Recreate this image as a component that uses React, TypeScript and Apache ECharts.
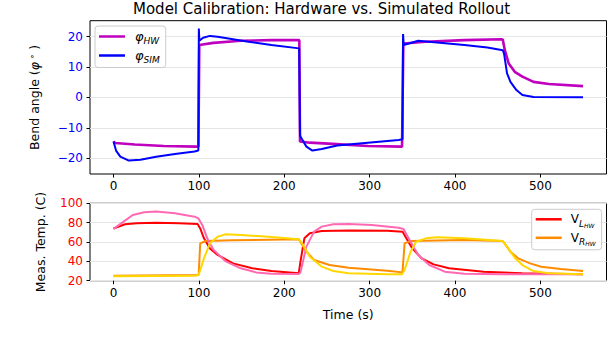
import React, { useEffect, useRef } from 'react';
import * as echarts from 'echarts';

// ---- Tick labels ----
const xTicks = [0, 100, 200, 300, 400, 500];
const phiTicks = [-20, -10, 0, 10, 20];

// ---- Top plot: bend angle (deg) ----
const tPhiHW = [0, 2, 25, 59, 97, 99.5, 100.5, 117, 149, 185, 217.7, 218.5, 230, 257, 298, 338, 339.5, 366, 411, 454, 456, 458.4, 463, 470, 479, 492, 510, 550];
const phiHW = [-14.5, -15, -15.5, -16, -16.2, -16.2, 17.2, 17.9, 18.6, 18.8, 18.8, -14.5, -14.9, -15.3, -16, -16.2, 17.7, 18.3, 18.8, 19.1, 19, 15.5, 11.1, 8.4, 6.8, 5.1, 4.4, 3.7];

const tPhiSIM = [0, 3, 8, 18, 31.6, 50, 72, 95, 99.4, 100, 100.6, 105, 113, 122, 158, 185, 217.5, 218.5, 219.3, 226, 233, 244, 262, 298, 334, 338.5, 339.2, 340, 345, 357, 366, 411, 438, 456, 457.5, 461, 465, 472, 479, 492, 550];
const phiSIM = [-14.5, -17.5, -19.5, -20.8, -20.5, -19.5, -18.6, -17.8, -17.5, 22.6, 18.6, 19.6, 20.2, 19.9, 18.3, 17.2, 16.1, -12.5, -13, -16.2, -17.5, -17, -15.8, -14.9, -14, -13.8, 20.8, 17.2, 17.6, 18.6, 18.4, 17.2, 16.4, 15.5, 14.4, 7.9, 5.1, 2.4, 0.8, 0.1, 0];

// ---- Bottom plot: measured temperature (C) ----
const tVLHW = [0, 13.5, 27, 50, 77, 98.5, 101.6, 106, 113, 122, 140, 162.6, 185, 217, 219, 223.6, 230, 244, 275.5, 320.7, 338.7, 343, 350, 361, 375, 393, 433.6, 478.8, 550];
const vLHW = [74, 78.3, 79.5, 79.8, 79.5, 78.6, 74, 63.8, 53.4, 46.6, 37.9, 32.8, 30, 27.6, 39.7, 63.8, 69, 71.4, 72, 71.7, 70.7, 63.8, 53.4, 43.1, 36.9, 32.8, 29.3, 27.6, 26.6];

const tVRHW = [0, 97, 99.8, 101.6, 108, 140, 217, 226, 235, 253, 275.5, 320.7, 338.5, 341, 348, 411, 456, 465, 474, 488, 501, 524, 550];
const vRHW = [25.2, 25.9, 26, 58.6, 61, 61.7, 62.8, 50, 41.4, 36.2, 33.4, 30.3, 28.6, 58.6, 61, 62, 61, 50, 43.1, 37.9, 34.5, 32, 30];

const tVLSIM = [0, 9, 22.6, 36, 50, 72, 95, 99.4, 104, 110.7, 117.4, 131, 149, 167, 185, 217, 219, 226, 235, 244, 257.5, 275.5, 302.6, 334, 339.7, 348, 357, 370, 388, 411, 456, 550];
const vLSIM = [73.4, 79.3, 87.9, 90.7, 91.4, 89.7, 86.2, 84.5, 77.6, 62, 51.7, 40.3, 32.8, 28.6, 27.2, 26.9, 28.5, 55.2, 70.7, 75.9, 78.3, 78.6, 77.6, 74.8, 73.4, 60.3, 46.6, 36.2, 29.3, 27.2, 26.6, 26.6];

const tVRSIM = [0, 97, 100, 106, 113, 122, 131, 149, 185, 217, 221, 230, 244, 257.5, 275.5, 320.7, 338, 341, 348, 354.6, 366, 379, 411, 456, 461, 470, 479, 492, 510, 550];
const vRSIM = [24.5, 25.2, 26.6, 43.1, 58.6, 65.5, 67.9, 67.2, 65.2, 62.8, 58.6, 44.8, 34.5, 30, 27.6, 26.6, 26.6, 31, 50, 60.3, 63.8, 64.8, 63.8, 61, 55.2, 43.8, 36.2, 30, 27.6, 26.6];

const zip = (t: number[], v: number[]) => t.map((x, i) => [x, v[i]]);
const fmt = (v: number) => (v < 0 ? '\u2212' + Math.abs(v) : String(v));
const FONT = 'DejaVu Sans';

export default function App() {
  const ref = useRef<HTMLDivElement>(null);
  useEffect(() => {
    document.body.style.margin = '0';
    const chart = echarts.init(ref.current as HTMLDivElement, null, { renderer: 'svg' });

    const xAxis = (gridIndex: number, name: string) => ({
      type: 'value',
      gridIndex,
      position: 'bottom',
      min: -27.5,
      max: 577.5,
      name,
      nameLocation: 'middle',
      nameGap: 27,
      nameTextStyle: { color: '#000', fontSize: 12.5, fontFamily: FONT },
      axisLine: { show: false, onZero: false },
      axisTick: { show: true, length: 3.5, lineStyle: { color: '#000', width: 1 }, customValues: xTicks },
      axisLabel: { customValues: xTicks, color: '#000', fontSize: 12, fontFamily: FONT, margin: 6, formatter: fmt },
      splitLine: { show: false },
    });

    const line = (name: string, data: number[][], color: string, width: number, xi: number, z: number) => ({
      type: 'line',
      name,
      xAxisIndex: xi,
      yAxisIndex: xi,
      data,
      symbol: 'none',
      showSymbol: false,
      lineStyle: { color, width },
      itemStyle: { color },
      z,
      silent: true,
    });

    const legendBase = {
      orient: 'vertical',
      icon: 'rect',
      itemWidth: 26,
      itemHeight: 2.5,
      itemGap: 3.5,
      backgroundColor: 'rgba(255,255,255,0.8)',
      borderColor: '#cccccc',
      borderWidth: 1,
      borderRadius: 3,
      padding: [4, 6, 3, 4],
    };

    chart.setOption({
      animation: false,
      backgroundColor: '#ffffff',
      title: {
        text: 'Model Calibration: Hardware vs. Simulated Rollout',
        left: 128,
        top: -4,
        textStyle: { color: '#000', fontSize: 15, fontWeight: 'normal', fontFamily: FONT },
      },
      grid: [
        { left: 90, top: 20.7, width: 516.5, height: 153.3, show: true, borderColor: '#000', borderWidth: 1, backgroundColor: 'transparent' },
        { left: 90, top: 203.3, width: 516.5, height: 77.4, show: true, borderColor: '#000', borderWidth: 1, backgroundColor: 'transparent' },
      ],
      xAxis: [xAxis(0, ''), xAxis(1, 'Time (s)')],
      yAxis: [
        {
          type: 'value',
          gridIndex: 0,
          position: 'left',
          min: -25.2,
          max: 25.2,
          name: '{n|Bend angle (}{i|φ}{s| ∘}{n| )}',
          nameLocation: 'middle',
          nameGap: 49,
          nameTextStyle: {
            color: '#000',
            fontSize: 12.5,
            fontFamily: FONT,
            rich: {
              n: { fontSize: 12.5, fontFamily: FONT, color: '#000' },
              i: { fontSize: 12.5, fontFamily: FONT, fontStyle: 'italic', color: '#000' },
              s: { fontSize: 9, fontFamily: FONT, color: '#000', verticalAlign: 'top', lineHeight: 14 },
            },
          },
          axisLine: { show: false, onZero: false },
          axisTick: { show: true, length: 3.5, lineStyle: { color: '#000' }, customValues: phiTicks },
          axisLabel: { customValues: phiTicks, color: '#0000ff', fontSize: 12, fontFamily: FONT, margin: 7, formatter: fmt },
          splitLine: { show: true, lineStyle: { color: '#e6e6e6', width: 1 } },
        },
        {
          type: 'value',
          gridIndex: 1,
          position: 'left',
          min: 20,
          max: 100,
          interval: 20,
          name: 'Meas. Temp. (C)',
          nameLocation: 'middle',
          nameGap: 43,
          nameTextStyle: { color: '#000', fontSize: 12.5, fontFamily: FONT },
          axisLine: { show: false, onZero: false },
          axisTick: { show: true, length: 3.5, lineStyle: { color: '#000' } },
          axisLabel: { color: '#ff0000', fontSize: 12, fontFamily: FONT, margin: 7, formatter: fmt },
          splitLine: { show: true, lineStyle: { color: '#e6e6e6', width: 1 } },
        },
      ],
      legend: [
        {
          ...legendBase,
          left: 95,
          top: 26,
          data: ['phiHW', 'phiSIM'],
          formatter: (n: string) => (n === 'phiHW' ? '{i|φ}{s|HW}' : '{i|φ}{s|SIM}'),
          textStyle: {
            color: '#000',
            fontFamily: FONT,
            padding: [0, 0, 0, 5],
            rich: {
              i: { fontSize: 13, fontStyle: 'italic', fontFamily: FONT, color: '#000', lineHeight: 18 },
              s: { fontSize: 9, fontStyle: 'italic', fontFamily: FONT, color: '#000', lineHeight: 8, verticalAlign: 'bottom' },
            },
          },
        },
        {
          ...legendBase,
          left: 531.7,
          top: 209.3,
          data: ['VLHW', 'VRHW'],
          formatter: (n: string) => (n === 'VLHW' ? '{v|V}{s|L}{ss|HW}' : '{v|V}{s|R}{ss|HW}'),
          textStyle: {
            color: '#000',
            fontFamily: FONT,
            padding: [0, 0, 0, 4],
            rich: {
              v: { fontSize: 12, fontFamily: FONT, color: '#000', lineHeight: 18 },
              s: { fontSize: 9, fontStyle: 'italic', fontFamily: FONT, color: '#000', lineHeight: 9, verticalAlign: 'bottom' },
              ss: { fontSize: 6, fontStyle: 'italic', fontFamily: FONT, color: '#000', lineHeight: 4, verticalAlign: 'bottom' },
            },
          },
        },
      ],
      series: [
        line('phiHW', zip(tPhiHW, phiHW), '#bf00bf', 2.6, 0, 2),
        line('phiSIM', zip(tPhiSIM, phiSIM), '#0000ff', 2, 0, 3),
        line('VLHW', zip(tVLHW, vLHW), '#ff0000', 2, 1, 2),
        line('VRHW', zip(tVRHW, vRHW), '#ff8c00', 2, 1, 3),
        line('VLSIM', zip(tVLSIM, vLSIM), '#ff69b4', 2, 1, 4),
        line('VRSIM', zip(tVRSIM, vRSIM), '#ffd700', 2, 1, 5),
      ],
    });
    return () => chart.dispose();
  }, []);
  return <div ref={ref} style={{ position: 'absolute', left: 0, top: 0, width: 608, height: 348 }} />;
}
